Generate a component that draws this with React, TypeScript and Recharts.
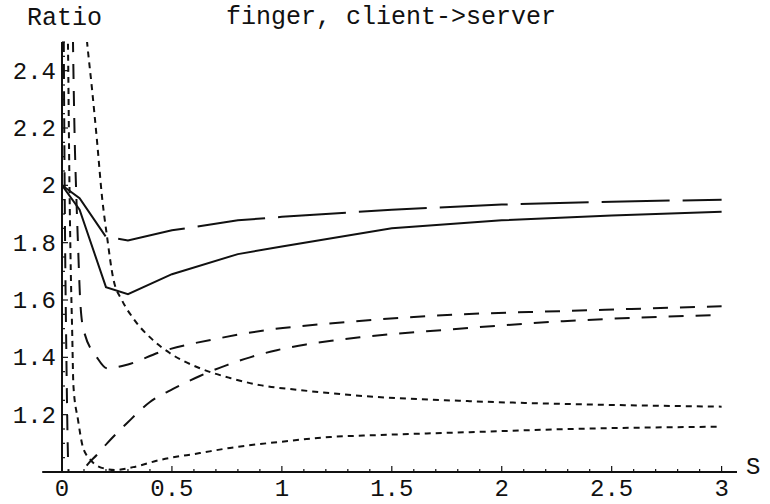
import React from 'react';
import { LineChart, Line, XAxis, YAxis, ReferenceLine } from 'recharts';

const FONT = '"Liberation Mono", "Courier New", Courier, monospace';
const INK = '#111';

const chartTitle = 'finger, client->server';
const yAxisTitle = 'Ratio';
const xAxisTitle = 'S';

// axis ticks
const xMajorTicks = [0, 0.5, 1, 1.5, 2, 2.5, 3];
const xMajorLabels = ['0', '0.5', '1', '1.5', '2', '2.5', '3'];
const xAllTicks = [
  0, 0.1, 0.2, 0.3, 0.4, 0.5, 0.6, 0.7, 0.8, 0.9, 1, 1.1, 1.2, 1.3, 1.4, 1.5,
  1.6, 1.7, 1.8, 1.9, 2, 2.1, 2.2, 2.3, 2.4, 2.5, 2.6, 2.7, 2.8, 2.9, 3,
];
const yMajorTicks = [1.2, 1.4, 1.6, 1.8, 2.0, 2.2, 2.4];
const yMajorLabels = ['1.2', '1.4', '1.6', '1.8', '2', '2.2', '2.4'];
const yAllTicks = [
  1.05, 1.1, 1.15, 1.2, 1.25, 1.3, 1.35, 1.4, 1.45, 1.5, 1.55, 1.6, 1.65, 1.7,
  1.75, 1.8, 1.85, 1.9, 1.95, 2.0, 2.05, 2.1, 2.15, 2.2, 2.25, 2.3, 2.35, 2.4,
  2.45, 2.5,
];

// solid curve
const solidX = [0, 0.08, 0.2, 0.3, 0.5, 0.8, 1.0, 1.5, 2.0, 2.5, 3.0];
const solidY = [2.0, 1.915, 1.645, 1.62, 1.69, 1.76, 1.787, 1.85, 1.878, 1.895, 1.908];

// long-dashed curve
const longX = [0, 0.08, 0.2, 0.3, 0.5, 0.8, 1.0, 1.5, 2.0, 2.5, 3.0];
const longY = [2.0, 1.955, 1.82, 1.808, 1.843, 1.878, 1.89, 1.915, 1.933, 1.943, 1.95];

// medium-dashed curve, upper
const medAX = [0.045, 0.05, 0.059, 0.064, 0.073, 0.082, 0.097, 0.159, 0.205, 0.3, 0.445, 0.718, 0.93, 1.23, 1.82, 2.26, 3.0];
const medAY = [2.8, 2.5, 2.12, 1.99, 1.79, 1.61, 1.5, 1.4, 1.362, 1.375, 1.418, 1.467, 1.495, 1.519, 1.55, 1.561, 1.578];

// medium-dashed curve, lower
const medBX = [0.006, 0.012, 0.02, 0.03, 0.05, 0.08, 0.114, 0.159, 0.205, 0.295, 0.4, 0.505, 0.627, 0.75, 0.855, 0.977, 1.11, 1.25, 1.355, 1.76, 2.28, 3.0];
const medBY = [2.8, 2.0, 1.4, 1.0, 0.93, 0.985, 1.024, 1.06, 1.1, 1.17, 1.244, 1.29, 1.335, 1.373, 1.4, 1.425, 1.445, 1.46, 1.47, 1.497, 1.526, 1.548];

// dotted curve, upper
const dotAX = [0.1, 0.114, 0.136, 0.159, 0.182, 0.205, 0.232, 0.273, 0.323, 0.414, 0.49, 0.627, 0.764, 0.9, 1.08, 1.32, 1.855, 2.31, 3.0];
const dotAY = [2.62, 2.5, 2.34, 2.157, 1.96, 1.82, 1.679, 1.599, 1.537, 1.46, 1.415, 1.362, 1.328, 1.303, 1.286, 1.268, 1.247, 1.237, 1.228];

// dotted curve, lower
const dotBX = [0.02, 0.027, 0.034, 0.04, 0.046, 0.052, 0.073, 0.095, 0.127, 0.164, 0.24, 0.323, 0.445, 0.627, 0.764, 0.99, 1.22, 1.445, 1.855, 2.31, 3.0];
const dotBY = [2.8, 2.5, 2.0, 1.7, 1.5, 1.3, 1.181, 1.087, 1.045, 1.02, 1.007, 1.017, 1.042, 1.066, 1.084, 1.105, 1.122, 1.129, 1.139, 1.15, 1.158];

const toPoints = (xs: number[], ys: number[]) => xs.map((x, i) => ({ x, y: ys[i] }));

const series = [
  { key: 'solid', data: toPoints(solidX, solidY), dash: undefined, type: 'linear' },
  { key: 'long', data: toPoints(longX, longY), dash: '68 13', type: 'linear' },
  { key: 'medA', data: toPoints(medAX, medAY), dash: '15 12', type: 'monotone' },
  { key: 'medB', data: toPoints(medBX, medBY), dash: '15 12', type: 'monotone' },
  { key: 'dotA', data: toPoints(dotAX, dotAY), dash: '6 5', type: 'monotone' },
  { key: 'dotB', data: toPoints(dotBX, dotBY), dash: '6 5', type: 'monotone' },
];

const findIdx = (arr: number[], v: number) => arr.findIndex((a) => Math.abs(a - v) < 1e-6);

const XTick = (props: any) => {
  const { x, y, payload } = props;
  const i = findIdx(xMajorTicks, payload.value);
  const major = i >= 0;
  return (
    <g>
      <line x1={x} x2={x} y1={y} y2={y - (major ? 6 : 3)} stroke={INK} strokeWidth={1.2} />
      {major && (
        <text x={x} y={y + 24} textAnchor="middle" fontFamily={FONT} fontSize={24} fill={INK}>
          {xMajorLabels[i]}
        </text>
      )}
    </g>
  );
};

const YTick = (props: any) => {
  const { x, y, payload } = props;
  const i = findIdx(yMajorTicks, payload.value);
  const major = i >= 0;
  return (
    <g>
      <line x1={x} x2={x + (major ? 6 : 3)} y1={y} y2={y} stroke={INK} strokeWidth={1.2} />
      {major && (
        <text x={x - 6} y={y + 8} textAnchor="end" fontFamily={FONT} fontSize={24} fill={INK}>
          {yMajorLabels[i]}
        </text>
      )}
    </g>
  );
};

export default function App() {
  return (
    <div style={{ position: 'absolute', left: 0, top: 0, width: 770, height: 504, background: '#fff' }}>
      <LineChart width={770} height={504} margin={{ top: 42, right: 33, bottom: 0, left: 0 }}>
        <XAxis
          type="number"
          dataKey="x"
          domain={[0, 3.07]}
          ticks={xAllTicks}
          interval={0}
          tickSize={0}
          tickMargin={0}
          axisLine={false}
          tickLine={false}
          tick={<XTick />}
          height={32}
          allowDataOverflow
        />
        <YAxis
          type="number"
          domain={[1, 2.5]}
          ticks={yAllTicks}
          interval={0}
          tickSize={0}
          tickMargin={0}
          width={62}
          axisLine={{ stroke: INK, strokeWidth: 2 }}
          tickLine={false}
          tick={<YTick />}
          allowDataOverflow
        />
        <ReferenceLine
          segment={[{ x: -0.09, y: 1 }, { x: 3.07, y: 1 }]}
          stroke={INK}
          strokeWidth={2}
          ifOverflow="visible"
        />
        {series.map((s) => (
          <Line
            key={s.key}
            data={s.data}
            dataKey="y"
            type={s.type as any}
            stroke={INK}
            strokeWidth={2}
            strokeDasharray={s.dash}
            dot={false}
            activeDot={false}
            isAnimationActive={false}
          />
        ))}
      </LineChart>
      <svg
        width={770}
        height={504}
        style={{ position: 'absolute', left: 0, top: 0, pointerEvents: 'none' }}
      >
        <text x={27} y={25} fontFamily={FONT} fontSize={25} fill={INK}>
          {yAxisTitle}
        </text>
        <text x={391} y={24} textAnchor="middle" fontFamily={FONT} fontSize={25} fill={INK}>
          {chartTitle}
        </text>
        <text x={746} y={474} fontFamily={FONT} fontSize={24} fill={INK}>
          {xAxisTitle}
        </text>
      </svg>
    </div>
  );
}
